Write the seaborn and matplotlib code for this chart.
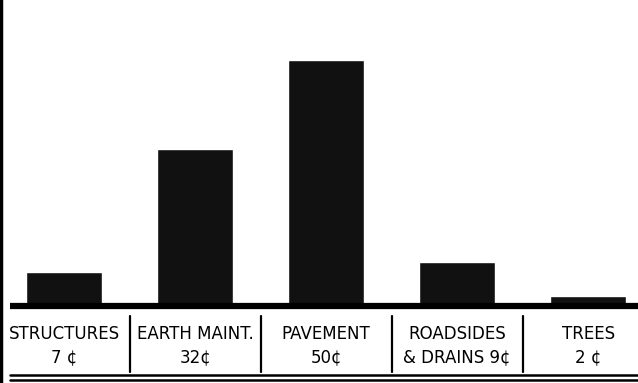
import numpy as np
import pandas as pd
import matplotlib
matplotlib.use("Agg")
import matplotlib.pyplot as plt
import seaborn as sns
from matplotlib.lines import Line2D

# quota per dollaro di manutenzione (centesimi)
categorie = ["STRUCTURES", "EARTH MAINT.", "PAVEMENT", "ROADSIDES", "TREES"]
etichette = ["STRUCTURES\n7 ¢", "EARTH MAINT.\n32¢", "PAVEMENT\n50¢",
             "ROADSIDES\n& DRAINS 9¢", "TREES\n2 ¢"]
centesimi = [7, 32, 50, 9, 2]

df = pd.DataFrame({"Categoria": categorie, "Cent": centesimi})

sns.set_style("white")
plt.rcParams["font.family"] = ["DejaVu Sans"]

fig = plt.figure(figsize=(6.38, 3.83), dpi=100)
ax = fig.add_axes([0, 0.201, 1, 0.799])

sns.barplot(data=df, x="Categoria", y="Cent", color="#111111", width=0.58,
            saturation=1, ax=ax)

ax.set_xlim(-0.49, 4.38)
ax.set_ylim(0, 62.2)
ax.set_xlabel("")
ax.set_ylabel("")
ax.set_yticks([])
ax.set_xticks(range(len(etichette)))
ax.set_xticklabels(etichette, fontsize=12, linespacing=1.35, color="black",
                   fontweight="medium")
ax.tick_params(axis="x", length=0, pad=14)
for s in ax.spines.values():
    s.set_visible(False)

# linea di base spessa
ax.plot([-0.41, 4.38], [0, 0], color="black", lw=4.5, clip_on=False,
        solid_capstyle="butt")

# separatori verticali tra le caselle
for xd in [0.5, 1.5, 2.5, 3.5]:
    ax.plot([xd, xd], [-2.0, -13.5], color="black", lw=1.6, clip_on=False)

# doppia linea in fondo e bordo sinistro
fig.add_artist(Line2D([0.015, 1], [0.021, 0.021], color="black", lw=1.8))
fig.add_artist(Line2D([0.015, 1], [0.008, 0.008], color="black", lw=1.8))
fig.add_artist(Line2D([0.002, 0.002], [0, 1], color="black", lw=2.5))

fig.savefig("out.png", dpi=100)
